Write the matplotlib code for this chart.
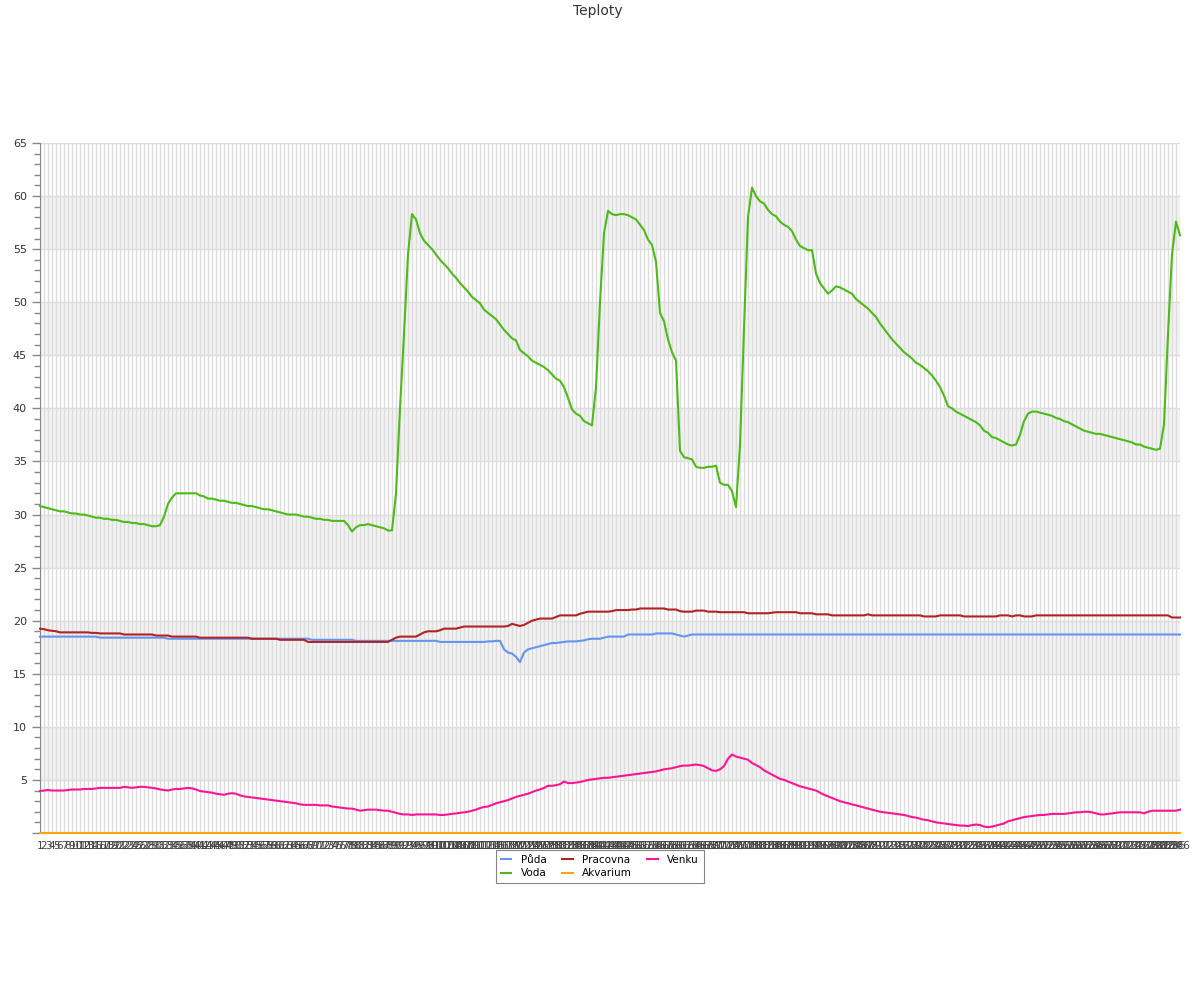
import matplotlib
matplotlib.use("Agg")
import matplotlib.pyplot as plt
from matplotlib.ticker import MultipleLocator, FixedLocator

N = 286
labels = [str(i) for i in range(1, N + 1)]

puda = ([18.5] * 15 + [18.4] * 17 + [18.3] * 36 + [18.2] * 10 + [18.2] + [18.1] * 11 +
        [18.1] * 10 + [18.0] * 10 + [18.0, 18.0, 18.05, 18.05, 18.1] +
        [18.1, 17.3, 17.0, 16.9, 16.6, 16.1, 17.0, 17.3, 17.4, 17.5, 17.6, 17.7, 17.8, 17.9, 17.9,
         17.95, 18.0, 18.05, 18.05, 18.05, 18.1, 18.15, 18.25, 18.3, 18.3, 18.3, 18.4,
         18.5, 18.5, 18.5, 18.5, 18.5, 18.7, 18.7, 18.7, 18.7, 18.7, 18.7, 18.7,
         18.8, 18.8, 18.8, 18.8, 18.8, 18.7, 18.6, 18.5, 18.6] + [18.7] * 123)

pracovna = ([19.25, 19.2, 19.1, 19.05, 19.0] + [18.9] * 8 + [18.85] * 2 + [18.8] * 6 +
            [18.7] * 8 + [18.6] * 4 + [18.5] * 7 + [18.4] * 13 + [18.3] * 7 + [18.2] * 7 +
            [18.0] * 21 + [18.2, 18.4] + [18.5] * 5 + [18.7, 18.9, 19.0, 19.0, 19.0, 19.1] +
            [19.25] * 4 + [19.35] + [19.45] * 11 +
            [19.5, 19.7, 19.6, 19.5, 19.6, 19.8, 20.0, 20.1, 20.2, 20.2, 20.2, 20.2, 20.35] +
            [20.5] * 5 + [20.65, 20.75] + [20.85] * 6 + [20.9] + [21.0] * 4 + [21.05] * 2 +
            [21.15] * 7 + [21.05] * 3 + [20.9] + [20.85] * 3 + [20.95] * 3 + [20.85] * 3 +
            [20.8] * 7 + [20.7] * 6 + [20.75] + [20.8] * 6 + [20.7] * 4 + [20.6] * 4 +
            [20.5] * 9 + [20.6] + [20.5] * 13 + [20.4] * 4 + [20.5] * 6 + [20.4] * 9 +
            [20.5] * 3 + [20.4] + [20.5] * 2 + [20.4] * 3 + [20.5] * 34 + [20.3] * 3)

voda = [30.8, 30.7, 30.6, 30.5, 30.4, 30.3, 30.3, 30.2, 30.1, 30.1,
        30.0, 30.0, 29.9, 29.8, 29.7, 29.7, 29.6, 29.6, 29.5, 29.5,
        29.4, 29.3, 29.3, 29.2, 29.2, 29.1, 29.1, 29.0, 28.9, 28.9,
        29.0, 29.8, 31.0, 31.6, 32.0, 32.0, 32.0, 32.0, 32.0, 32.0,
        31.8, 31.7, 31.5, 31.5, 31.4, 31.3, 31.3, 31.2, 31.1, 31.1,
        31.0, 30.9, 30.8, 30.8, 30.7, 30.6, 30.5, 30.5, 30.4, 30.3,
        30.2, 30.1, 30.0, 30.0, 30.0, 29.9, 29.8, 29.8, 29.7, 29.6,
        29.6, 29.5, 29.5, 29.4, 29.4, 29.4, 29.4, 29.0, 28.4, 28.8,
        29.0, 29.0, 29.1, 29.0, 28.9, 28.8, 28.7, 28.5, 28.5, 32.0,
        40.0, 47.0, 54.5, 58.3, 57.8, 56.5, 55.8, 55.4, 55.0, 54.5,
        54.0, 53.6, 53.2, 52.7, 52.3, 51.8, 51.4, 51.0, 50.5, 50.2,
        49.9, 49.3, 49.0, 48.7, 48.4, 47.9, 47.4, 47.0, 46.6, 46.4,
        45.5, 45.2, 44.9, 44.5, 44.3, 44.1, 43.9, 43.6, 43.2, 42.8,
        42.6, 42.0, 41.0, 39.9, 39.5, 39.3, 38.8, 38.6, 38.4, 42.0,
        50.0, 56.5, 58.6, 58.3, 58.2, 58.3, 58.3, 58.2, 58.0, 57.8,
        57.3, 56.8, 55.9, 55.4, 53.8, 49.0, 48.2, 46.5, 45.3, 44.5,
        36.0, 35.4, 35.3, 35.2, 34.5, 34.4, 34.4, 34.5, 34.5, 34.6,
        33.0, 32.8, 32.8, 32.2, 30.7, 36.5, 47.5, 58.0, 60.8, 60.0,
        59.5, 59.3, 58.7, 58.3, 58.1, 57.6, 57.3, 57.1, 56.7, 55.9,
        55.3, 55.1, 54.9, 54.9, 52.7, 51.8, 51.3, 50.8, 51.1, 51.5,
        51.4, 51.2, 51.0, 50.8, 50.3, 50.0, 49.7, 49.4, 49.0, 48.6,
        48.0, 47.5, 47.0, 46.5, 46.1, 45.7, 45.3, 45.0, 44.7, 44.3,
        44.1, 43.8, 43.5, 43.1, 42.6, 42.0, 41.2, 40.2, 40.0, 39.7,
        39.5, 39.3, 39.1, 38.9, 38.7, 38.4, 37.9, 37.7, 37.3, 37.2,
        37.0, 36.8, 36.6, 36.5, 36.6, 37.5, 38.8, 39.5, 39.7, 39.7,
        39.6, 39.5, 39.4, 39.3, 39.1, 39.0, 38.8, 38.7, 38.5, 38.3,
        38.1, 37.9, 37.8, 37.7, 37.6, 37.6, 37.5, 37.4, 37.3, 37.2,
        37.1, 37.0, 36.9, 36.8, 36.6, 36.6, 36.4, 36.3, 36.2, 36.1,
        36.2, 38.5, 47.0, 54.5, 57.6, 56.3]

akvarium = [0.0] * N

venku = [3.95, 4.0, 4.05, 4.0, 4.0, 4.0, 4.0, 4.05, 4.1, 4.1,
         4.1, 4.15, 4.15, 4.15, 4.2, 4.25, 4.25, 4.25, 4.25, 4.25,
         4.25, 4.35, 4.3, 4.25, 4.3, 4.35, 4.35, 4.3, 4.25, 4.2,
         4.1, 4.05, 4.0, 4.1, 4.15, 4.15, 4.2, 4.25, 4.2, 4.1,
         3.95, 3.9, 3.85, 3.8, 3.7, 3.65, 3.6, 3.7, 3.75, 3.7,
         3.55, 3.45, 3.4, 3.35, 3.3, 3.25, 3.2, 3.15, 3.1, 3.05,
         3.0, 2.95, 2.9, 2.85, 2.8, 2.7, 2.65, 2.65, 2.65, 2.65,
         2.6, 2.6, 2.6, 2.5, 2.45, 2.4, 2.35, 2.3, 2.3, 2.2,
         2.1, 2.15, 2.2, 2.2, 2.2, 2.15, 2.1, 2.1, 2.0, 1.9,
         1.8, 1.75, 1.75, 1.7, 1.75, 1.75, 1.75, 1.75, 1.75, 1.75,
         1.7, 1.7, 1.75, 1.8, 1.85, 1.9, 1.95, 2.0, 2.1, 2.2,
         2.35, 2.45, 2.5, 2.65, 2.8, 2.9, 3.0, 3.1, 3.25, 3.4,
         3.5, 3.6, 3.7, 3.85, 4.0, 4.1, 4.25, 4.45, 4.45, 4.5,
         4.6, 4.85, 4.7, 4.7, 4.75, 4.8, 4.9, 5.0, 5.05, 5.1,
         5.15, 5.2, 5.2, 5.25, 5.3, 5.35, 5.4, 5.45, 5.5, 5.55,
         5.6, 5.65, 5.7, 5.75, 5.8, 5.9, 6.0, 6.05, 6.1, 6.2,
         6.3, 6.35, 6.35, 6.4, 6.45, 6.4, 6.3, 6.1, 5.9, 5.85,
         6.0, 6.3, 7.0, 7.4, 7.2, 7.1, 7.0, 6.9, 6.6, 6.4,
         6.2, 5.9, 5.7, 5.5, 5.3, 5.1, 5.0, 4.85, 4.7, 4.55,
         4.4, 4.3, 4.2, 4.1, 4.0, 3.8, 3.6, 3.45, 3.3, 3.15,
         3.0, 2.9, 2.8, 2.7, 2.6, 2.5, 2.4, 2.3, 2.2, 2.1,
         2.0, 1.95, 1.9, 1.85, 1.8, 1.75, 1.7, 1.6, 1.5, 1.45,
         1.35, 1.25, 1.2, 1.1, 1.0, 0.95, 0.9, 0.85, 0.8, 0.75,
         0.7, 0.7, 0.65, 0.75, 0.8, 0.75, 0.6, 0.55, 0.6, 0.7,
         0.8, 0.9, 1.1, 1.2, 1.3, 1.4, 1.5, 1.55, 1.6, 1.65,
         1.7, 1.7, 1.75, 1.8, 1.8, 1.8, 1.8, 1.85, 1.9, 1.95,
         1.95, 2.0, 2.0, 1.95, 1.85, 1.75, 1.75, 1.8, 1.85, 1.9,
         1.95, 1.95, 1.95, 1.95, 1.95, 1.95, 1.85, 2.0, 2.1, 2.1,
         2.1, 2.1, 2.1, 2.1, 2.1, 2.2]

series = [("Půda", puda, "#6495ED"),
          ("Voda", voda, "#4CBB17"),
          ("Pracovna", pracovna, "#B22222"),
          ("Akvarium", akvarium, "#FFA500"),
          ("Venku", venku, "#FF1493")]

fig = plt.figure(figsize=(12, 10), dpi=100)
ax = fig.add_axes([40 / 1200, 1 - 833 / 1000, 1140 / 1200, 690 / 1000])

x = list(range(N))
ax.set_xlim(0, N - 1)
ax.set_ylim(0, 65)

for lo in range(5, 60, 10):
    ax.axhspan(lo, lo + 5, color="#f3f3f3", zorder=0, lw=0)

ax.set_axisbelow(True)
ax.xaxis.set_major_locator(FixedLocator(x))
ax.set_xticklabels(labels, fontsize=7.5, color="#444444")
ax.tick_params(axis="x", length=0, pad=6)
ax.grid(axis="x", color="#dddddd", lw=1)

ax.yaxis.set_major_locator(MultipleLocator(5))
ax.yaxis.set_minor_locator(MultipleLocator(1))
ax.set_yticks(range(0, 66, 5))
ax.set_yticklabels([""] + [str(v) for v in range(5, 66, 5)], fontsize=8, color="#333333")
ax.tick_params(axis="y", which="major", length=6, color="#888888", width=1)
ax.tick_params(axis="y", which="minor", length=4, color="#888888", width=1)
ax.grid(axis="y", which="major", color="#dddddd", lw=1)

for s in ["top", "right", "bottom"]:
    ax.spines[s].set_visible(False)
ax.spines["left"].set_color("#888888")

handles = {}
for name, vals, col in series:
    (ln,) = ax.plot(x, vals, color=col, lw=1.5, label=name, zorder=3, clip_on=False)
    handles[name] = ln

leg = fig.legend([handles[n] for n, _, _ in series], [n for n, _, _ in series],
                 loc="upper center", bbox_to_anchor=(600 / 1200, 1 - 850 / 1000),
                 ncol=3, fontsize=7.5, frameon=True, fancybox=False, edgecolor="#666666",
                 handlelength=1.0, handletextpad=0.9, columnspacing=1.5,
                 borderpad=0.45, labelspacing=0.35, borderaxespad=0)
leg.get_frame().set_linewidth(0.8)

fig.text(598 / 1200, 1 - 11 / 1000, "Teploty", ha="center", va="center",
         fontsize=10, color="#333333")

fig.savefig("out.png", dpi=100)
